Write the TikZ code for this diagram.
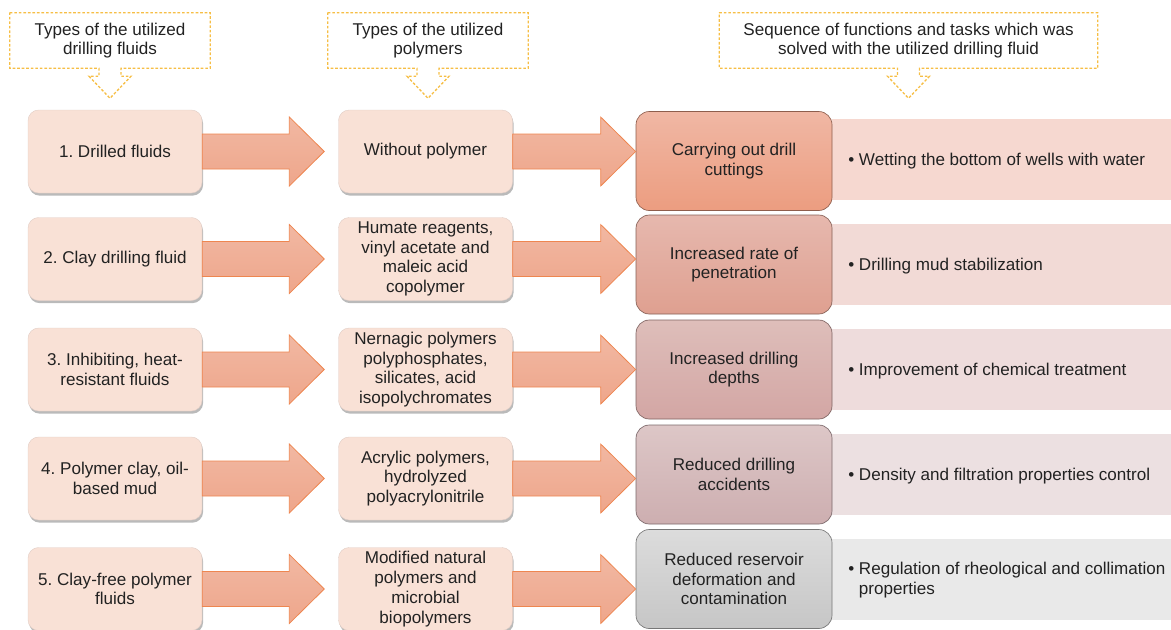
\documentclass[tikz,border=0pt]{standalone}
\usepackage{fontspec}
\setmainfont{Liberation Sans}
\frenchspacing
\usetikzlibrary{calc,shadows,positioning}
\definecolor{peach}{HTML}{F9E1D6}
\definecolor{arrowfill}{HTML}{EEA68B}
\definecolor{arrowline}{HTML}{EE8650}
\definecolor{callline}{HTML}{F6BE45}
\definecolor{txt}{HTML}{222222}
% column 3 shades, top and bottom
\definecolor{taskAt}{HTML}{F0B7A4}\definecolor{taskAb}{HTML}{EC9D80}
\definecolor{taskBt}{HTML}{E6B8AE}\definecolor{taskBb}{HTML}{DFA090}
\definecolor{taskCt}{HTML}{DEBEBA}\definecolor{taskCb}{HTML}{D3A6A4}
\definecolor{taskDt}{HTML}{DDC7C7}\definecolor{taskDb}{HTML}{CDAEB0}
\definecolor{taskEt}{HTML}{DCDCDC}\definecolor{taskEb}{HTML}{C6C6C6}
% bullet strips
\definecolor{stripA}{HTML}{F6D8D0}
\definecolor{stripB}{HTML}{F2DAD6}
\definecolor{stripC}{HTML}{EEDCDC}
\definecolor{stripD}{HTML}{ECE0E1}
\definecolor{stripE}{HTML}{E9E9E9}

\tikzset{
  fluidbox/.style={rounded corners=8pt, fill=peach, draw=peach!80!gray, line width=0.3pt,
    minimum width=130.5pt, minimum height=62.25pt, inner sep=0pt, align=center,
    drop shadow={shadow xshift=0.8pt, shadow yshift=-2pt, fill=black!60, opacity=0.45}},
  taskbox/.style 2 args={rounded corners=10pt, top color=#1, bottom color=#2,
    draw=black!40!#2, line width=0.5pt, minimum width=147pt, minimum height=74.25pt,
    inner sep=0pt, align=center},
  strip/.style={fill=#1, minimum width=254.25pt, minimum height=60.75pt, inner sep=0pt},
  bulletnote/.style={anchor=west, inner sep=0pt, align=left},
  headnote/.style={minimum width=150pt, minimum height=41.25pt, inner sep=0pt, align=center},
  calloutline/.style={callline, line width=1pt, dash pattern=on 2pt off 1.4pt},
  bigarrow/.style={top color=arrowfill!80!white, bottom color=arrowfill, draw=arrowline, line width=0.6pt}
}

% block arrow from the east side of #1 towards #2, tip #3 px short of #2
\newcommand{\blockarrow}[3]{%
  \path (#1.east) coordinate (s) ($(#2.west |- #1.east)+(-#3,0)$) coordinate (t);
  \draw[bigarrow] ($(s)+(0,-17.5)$) -- ($(t)+(-35,-17.5)$) -- ($(t)+(-35,-34.5)$) -- (t)
    -- ($(t)+(-35,34.5)$) -- ($(t)+(-35,17.5)$) -- ($(s)+(0,17.5)$) -- cycle;}
% dashed down arrow callout round node #1
\newcommand{\callout}[1]{%
  \draw[calloutline] (#1.north west) -- (#1.north east) -- (#1.south east)
    -- ($(#1.south)+(11,0)$) -- ++(0,8) -- ++(10,0) -- ($(#1.south)+(0,30)$)
    -- ($(#1.south)+(-21,8)$) -- ++(10,0) -- ($(#1.south)+(-11,0)$)
    -- (#1.south west) -- cycle;}

\begin{document}
\begin{tikzpicture}[x=0.75pt,y=-0.75pt, font=\fontsize{12.8}{14.8}\selectfont, text=txt]
\useasboundingbox (0,0) rectangle (1171,629);

% headings
\node[headnote] (hA) at (110,40.5) {Types of the utilized\\drilling fluids};
\node[headnote] (hB) at (428,40.5) {Types of the utilized\\polymers};
\node[headnote, minimum width=283.5pt] (hC) at (908.5,40.5) {Sequence of functions and tasks which was\\solved with the utilized drilling fluid};
\callout{hA}
\callout{hB}
\callout{hC}

% bullet strips
\node[strip=stripA] (sA) at (1001.5,159.5) {};
\node[strip=stripB] (sB) at (1001.5,264.5) {};
\node[strip=stripC] (sC) at (1001.5,369.5) {};
\node[strip=stripD] (sD) at (1001.5,474.5) {};
\node[strip=stripE] (sE) at (1001.5,579) {};
\node[bulletnote] (nA) at (848,161.5) {\textbullet\ Wetting the bottom of wells with water};
\node[bulletnote] (nB) at (848,266.5) {\textbullet\ Drilling mud stabilization};
\node[bulletnote] (nC) at (848,371.5) {\textbullet\ Improvement of chemical treatment};
\node[bulletnote] (nD) at (848,476.5) {\textbullet\ Density and filtration properties control};
\node[bulletnote] (nE) at (848,580.5) {\begin{tabular}{@{}l@{\ }l@{}}\textbullet & Regulation of rheological and collimation\\ & properties\end{tabular}};

% tasks
\node[taskbox={taskAt}{taskAb}] (tA) at (734,161) {Carrying out drill\\cuttings};
\node[taskbox={taskBt}{taskBb}] (tB) at (734,264.5) {Increased rate of\\penetration};
\node[taskbox={taskCt}{taskCb}] (tC) at (734,369.5) {Increased drilling\\depths};
\node[taskbox={taskDt}{taskDb}] (tD) at (734,474.5) {Reduced drilling\\accidents};
\node[taskbox={taskEt}{taskEb}] (tE) at (734,579) {Reduced reservoir\\deformation and\\contamination};

% fluids
\node[fluidbox] (fA) at (115,151.5) {1. Drilled fluids};
\node[fluidbox] (fB) at (115,259) {2. Clay drilling fluid};
\node[fluidbox] (fC) at (115,369.5) {3. Inhibiting, heat-\\resistant fluids};
\node[fluidbox] (fD) at (115,478.5) {4. Polymer clay, oil-\\based mud};
\node[fluidbox] (fE) at (115,589) {5. Clay-free polymer\\fluids};

% polymers
\node[fluidbox] (pA) at (425.5,151.5) {Without polymer};
\node[fluidbox] (pB) at (425.5,259) {Humate reagents,\\vinyl acetate and\\maleic acid\\copolymer};
\node[fluidbox] (pC) at (425.5,369.5) {Nernagic polymers\\polyphosphates,\\silicates, acid\\isopolychromates};
\node[fluidbox] (pD) at (425.5,478.5) {Acrylic polymers,\\hydrolyzed\\polyacrylonitrile};
\node[fluidbox] (pE) at (425.5,589) {Modified natural\\polymers and\\microbial\\biopolymers};

\blockarrow{fA}{pA}{14}
\blockarrow{fB}{pB}{14}
\blockarrow{fC}{pC}{14}
\blockarrow{fD}{pD}{14}
\blockarrow{fE}{pE}{14}
\blockarrow{pA}{tA}{0}
\blockarrow{pB}{tB}{0}
\blockarrow{pC}{tC}{0}
\blockarrow{pD}{tD}{0}
\blockarrow{pE}{tE}{0}
\end{tikzpicture}
\end{document}
